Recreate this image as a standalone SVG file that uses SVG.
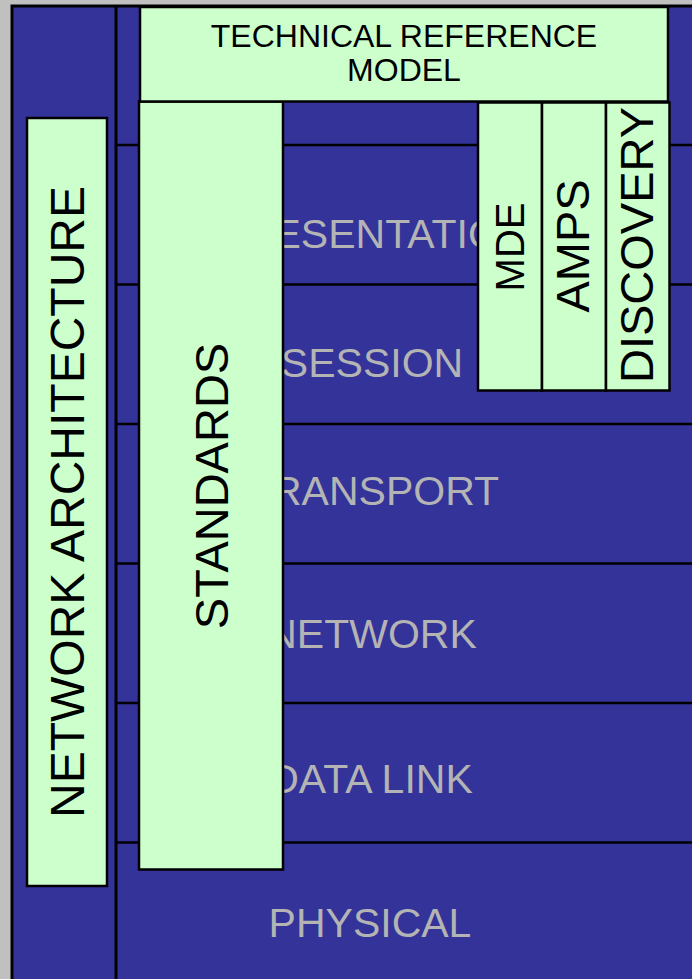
<svg xmlns="http://www.w3.org/2000/svg" width="692" height="979" viewBox="0 0 692 979">
  <style>
    .panel { fill: #ccffcc; stroke: #000000; stroke-width: 2.5; }
    .label { font-family: "Liberation Sans", Arial, sans-serif; fill: #000000; }
    .layer { font-family: "Liberation Sans", Arial, sans-serif; font-size: 41px; fill: #b4b4b4; text-anchor: middle; }
    .rule { stroke: #000000; stroke-width: 2.5; }
  </style>

  <!-- page background and OSI stack frame -->
  <rect x="0" y="0" width="692" height="979" fill="#c0c0c0"/>
  <rect id="frame" x="12" y="6" width="700" height="990" fill="#333399" stroke="#000000" stroke-width="3"/>

  <!-- OSI layers -->
  <g id="layers">
    <g id="layer-presentation">
      <text class="layer" x="373" y="248">PRESENTATION</text>
    </g>
    <g id="layer-session">
      <line class="rule" x1="116" y1="145" x2="692" y2="145"/>
      <text class="layer" x="372" y="377">SESSION</text>
    </g>
    <g id="layer-transport">
      <line class="rule" x1="116" y1="284.5" x2="692" y2="284.5"/>
      <text class="layer" x="373" y="505">TRANSPORT</text>
    </g>
    <g id="layer-network">
      <line class="rule" x1="116" y1="424" x2="692" y2="424"/>
      <text class="layer" x="372" y="648">NETWORK</text>
    </g>
    <g id="layer-datalink">
      <line class="rule" x1="116" y1="563.5" x2="692" y2="563.5"/>
      <text class="layer" x="371" y="793">DATA LINK</text>
    </g>
    <g id="layer-physical">
      <line class="rule" x1="116" y1="703" x2="692" y2="703"/>
      <line class="rule" x1="116" y1="842.5" x2="692" y2="842.5"/>
      <text class="layer" x="370" y="937">PHYSICAL</text>
    </g>
  </g>

  <!-- column divider -->
  <line x1="116" y1="6" x2="116" y2="979" stroke="#000000" stroke-width="3"/>

  <g id="network-architecture">
    <rect class="panel" x="27" y="118" width="80" height="768"/>
    <text class="label" font-size="48" text-anchor="middle" transform="translate(84 502) rotate(-90)">NETWORK ARCHITECTURE</text>
  </g>

  <g id="standards">
    <rect class="panel" x="139" y="101.5" width="144" height="768"/>
    <text class="label" font-size="47" text-anchor="middle" transform="translate(228 486) rotate(-90)">STANDARDS</text>
  </g>

  <g id="technical-reference-model">
    <rect class="panel" x="140" y="7" width="528" height="94.5"/>
    <text class="label" font-size="32" text-anchor="middle" x="404" y="47">TECHNICAL REFERENCE</text>
    <text class="label" font-size="32" text-anchor="middle" x="404" y="81">MODEL</text>
  </g>

  <g id="mde">
    <rect class="panel" x="478" y="102.5" width="64" height="288"/>
    <text class="label" font-size="40" text-anchor="middle" transform="translate(524 247) rotate(-90)">MDE</text>
  </g>

  <g id="amps">
    <rect class="panel" x="542" y="102.5" width="64" height="288"/>
    <text class="label" font-size="47" text-anchor="middle" transform="translate(589 246) rotate(-90)">AMPS</text>
  </g>

  <g id="discovery">
    <rect class="panel" x="606" y="102.5" width="63.5" height="288"/>
    <text class="label" font-size="47" text-anchor="middle" transform="translate(653 245) rotate(-90)">DISCOVERY</text>
  </g>
</svg>
